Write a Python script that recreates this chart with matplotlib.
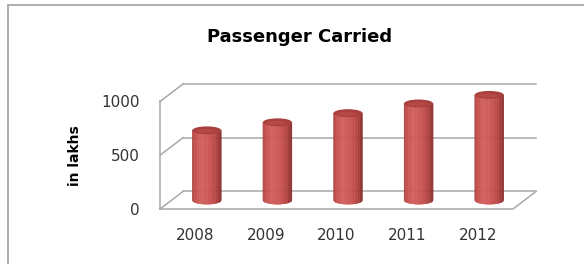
import numpy as np
import matplotlib
matplotlib.use('Agg')
import matplotlib.pyplot as plt
from matplotlib.collections import PolyCollection
from matplotlib.patches import Ellipse, Rectangle
from matplotlib.colors import LinearSegmentedColormap

# data
years = ['2008', '2009', '2010', '2011', '2012']
passengers = [650, 725, 810, 900, 980]
yticks = [0, 500, 1000]

fig = plt.figure(figsize=(5.84, 2.64), dpi=100)
ax = fig.add_axes([160 / 584, 55 / 264, 353 / 584, 107.5 / 264])
ax.set_xlim(-0.5, len(years) - 0.5)
ax.set_ylim(0, 1000)
for s in ax.spines.values():
    s.set_visible(False)
ax.patch.set_visible(False)

#%% pseudo 3d walls (depth given in data units)
depth_x, depth_y = 0.326, 163
grid_c = '#a8a8a8'
x0, x1 = -0.5, len(years) - 0.5
for g in yticks:
    ax.plot([x0 + depth_x, x1 + depth_x], [g + depth_y] * 2, color=grid_c, lw=1.1, clip_on=False, zorder=1)
    ax.plot([x0, x0 + depth_x], [g, g + depth_y], color=grid_c, lw=1.1, clip_on=False, zorder=1)
ax.plot([x0, x0], [0, 1000], color=grid_c, lw=1.1, clip_on=False, zorder=1)
ax.plot([x0, x1, x1 + depth_x], [0, 0, depth_y], color=grid_c, lw=1.1, clip_on=False, zorder=1)

#%% cylinders
cyl = LinearSegmentedColormap.from_list('cyl', [
    (0.0, '#ad413e'), (0.1, '#c44e4b'), (0.32, '#d25f5b'),
    (0.62, '#c9524f'), (0.84, '#b1423f'), (1.0, '#872d2b')])
bar_w = 0.41
ell_h = 74
n = 40
base = depth_y / 2
for i, v in enumerate(passengers):
    cx = i + depth_x / 2
    edges = np.linspace(-1, 1, n + 1)
    polys, cols = [], []
    for k in range(n):
        u0, u1 = edges[k], edges[k + 1]
        xa, xb = cx + u0 * bar_w / 2, cx + u1 * bar_w / 2
        ba = base - ell_h / 2 * np.sqrt(max(0, 1 - u0 ** 2))
        bb = base - ell_h / 2 * np.sqrt(max(0, 1 - u1 ** 2))
        polys.append([(xa, ba), (xb, bb), (xb, base + v), (xa, base + v)])
        cols.append(cyl((k + 0.5) / n))
    pc = PolyCollection(polys, facecolors=cols, edgecolors=cols, linewidths=0.3, clip_on=False, zorder=3)
    ax.add_collection(pc)
    ax.add_patch(Ellipse((cx, base + v), bar_w, ell_h, facecolor='#a8403d', edgecolor='none',
                         clip_on=False, zorder=4))
    ax.add_patch(Ellipse((cx - bar_w * 0.05, base + v - ell_h * 0.08), bar_w * 0.7, ell_h * 0.55,
                         facecolor='#b44845', edgecolor='none', clip_on=False, zorder=4))

#%% ticks and labels
ax.set_xticks(range(len(years)), years)
ax.set_yticks(yticks)
ax.tick_params(axis='both', length=0, labelsize=11, colors='#333333')
ax.tick_params(axis='x', pad=13.5)
ax.tick_params(axis='y', pad=14.4)

fig.text(300 / 584, 1 - 37 / 264, 'Passenger Carried', fontsize=13, fontweight='bold',
         ha='center', va='center')
fig.text(75 / 584, 1 - 156 / 264, 'in lakhs', fontsize=10, fontweight='bold',
         rotation=90, ha='center', va='center')

# outer chart frame (right and bottom edges fall outside the picture)
fig.add_artist(Rectangle((8 / 584, -0.1), 1.2, 259 / 264 + 0.1, transform=fig.transFigure,
                         fill=False, edgecolor='#a0a0a0', lw=1.2))

fig.savefig('out.png', dpi=100)
